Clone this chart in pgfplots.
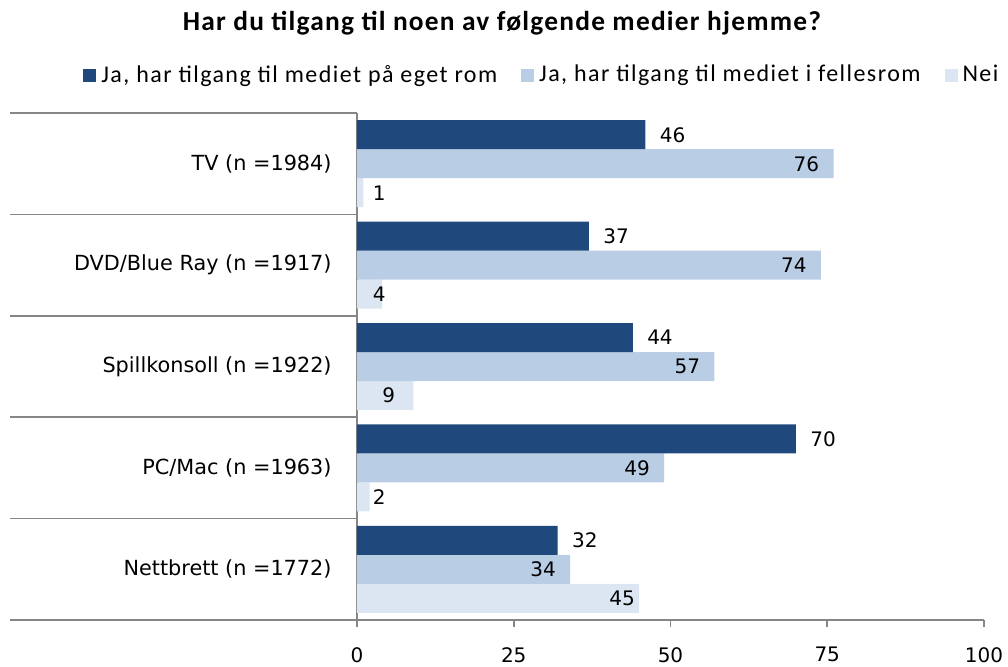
\documentclass[border=0pt]{standalone}
\usepackage{fontspec}
\setmainfont{Carlito}
\newfontfamily\labfont{DejaVu Sans}
\newfontfamily\titlefont[LetterSpace=4.5]{Carlito}
\newfontfamily\legfont[LetterSpace=6]{Carlito}
\usepackage{pgfplots}
\pgfplotsset{compat=1.18}

\definecolor{darkblue}{HTML}{1F497D}
\definecolor{midblue}{HTML}{B9CDE5}
\definecolor{paleblue}{HTML}{DCE6F2}
\definecolor{axisgray}{HTML}{868686}

\begin{document}
\begin{tikzpicture}[x=1pt,y=1pt]
% one pixel of the reference is 0.5pt here
\begin{axis}[
  at={(178.5pt,-310pt)}, anchor=south west,
  scale only axis, width=313.5pt, height=253.5pt,
  xbar=0pt, bar width=14.5pt,
  xmin=0, xmax=100, ymin=0.5, ymax=5.5,
  y dir=reverse,
  axis x line*=bottom, axis y line*=left,
  axis line style={axisgray, line width=0.8pt},
  /pgf/number format/assume math mode=true,
  xtick={0,25,50,75,100},
  xtick style={axisgray, line width=0.8pt},
  tick align=outside, major tick length=3.5pt,
  xticklabel style={font=\labfont\fontsize{10}{12}\selectfont, inner sep=0pt, yshift=-10pt},
  ytick={1,2,3,4,5},
  yticklabels={TV (n =1984), DVD/Blue Ray (n =1917), Spillkonsoll (n =1922), PC/Mac (n =1963), Nettbrett (n =1772)},
  ytick style={draw=none},
  yticklabel style={font=\labfont\fontsize{10.4}{12}\selectfont, inner sep=0pt, xshift=-9pt},
  extra y ticks={0.5,1.5,2.5,3.5,4.5,5.5},
  extra y tick labels={},
  extra y tick style={major tick length=173.5pt, ytick style={draw=axisgray, line width=0.8pt}},
  legend columns=3, reverse legend,
  legend style={at={(-0.437,1.075)}, anchor=west, draw=none, fill=none,
    inner sep=0pt, font=\legfont\fontsize{12}{14}\selectfont,
    nodes={inner sep=0pt},
    /tikz/every odd column/.append style={column sep=2.5pt},
    /tikz/every even column/.append style={column sep=12pt}},
  legend image code/.code={\fill[#1] (0pt,-3.25pt) rectangle (6.5pt,3.25pt);},
  nodes near coords,
  every node near coord/.append style={font=\labfont\fontsize{10}{12}\selectfont, inner sep=0pt},
]
\addplot[fill=paleblue, draw=none,
  visualization depends on={x \as \rawx},
  every node near coord/.append style={anchor=east,
    xshift={ifthenelse(\rawx<6, 14.5-3.135*\rawx, ifthenelse(\rawx<20, -9, -2))*1pt}}]
  coordinates {(1,1) (4,2) (9,3) (2,4) (45,5)};
\addplot[fill=midblue, draw=none,
  every node near coord/.append style={anchor=east, xshift=-7pt}]
  coordinates {(76,1) (74,2) (57,3) (49,4) (34,5)};
\addplot[fill=darkblue, draw=none,
  every node near coord/.append style={anchor=west, xshift=7pt}]
  coordinates {(46,1) (37,2) (44,3) (70,4) (32,5)};
\legend{Nei, {Ja, har tilgang til mediet i fellesrom}, {Ja, har tilgang til mediet på eget rom}}
\end{axis}
\node[font=\titlefont\bfseries\fontsize{13.7}{15}\selectfont] at (251pt,-11.5pt)
  {Har du tilgang til noen av følgende medier hjemme?};
\pgfresetboundingbox
\path[use as bounding box] (0pt,0pt) rectangle (504pt,-333pt);
\end{tikzpicture}
\end{document}
